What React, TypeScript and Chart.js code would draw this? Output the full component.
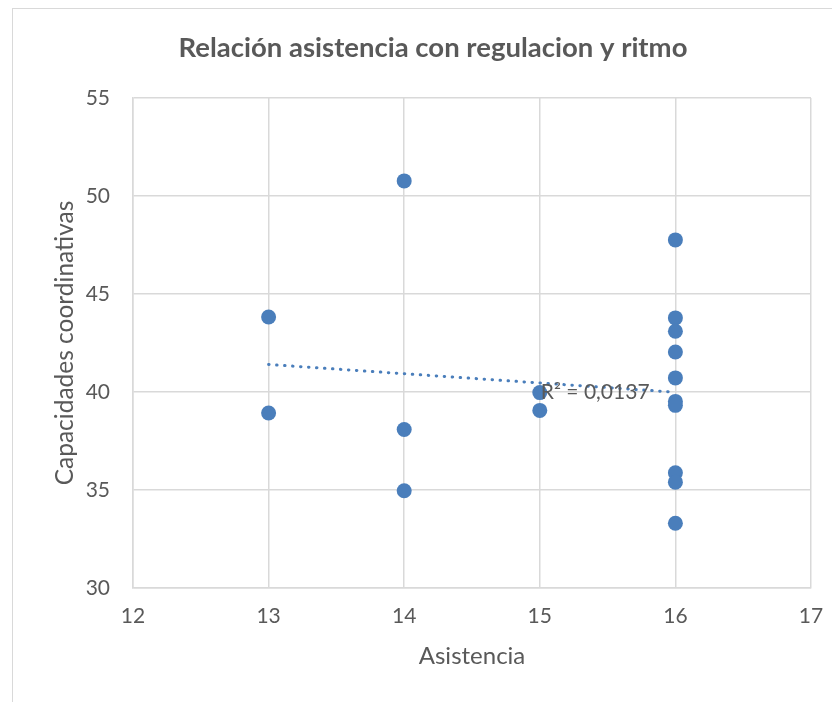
import React, { useEffect, useRef } from "react";
import { Chart, registerables } from "chart.js";

Chart.register(...registerables);

const chartTitle = "Relación asistencia con regulacion y ritmo";
const xAxisTitle = "Asistencia";
const yAxisTitle = "Capacidades coordinativas";
const r2Label = "R² = 0,0137";

const asistencia = [13, 13, 14, 14, 14, 15, 15, 16, 16, 16, 16, 16, 16, 16, 16, 16, 16];
const capacidades = [43.83, 38.93, 50.77, 38.09, 34.96, 39.97, 39.06, 47.76, 43.78, 43.1, 42.04, 40.72, 39.52, 39.32, 35.88, 35.4, 33.3];

const xMin = 12, xMax = 17, xStep = 1;
const yMin = 30, yMax = 55, yStep = 5;
const labelAnchor = { x: 15, y: 40 };

const BLUE = "#4a7ebb";
const GRID = "#d9d9d9";
const TEXT = "#595959";
const FONT = "Lato, 'Open Sans', sans-serif";

function regression(xs: number[], ys: number[]) {
  const n = xs.length;
  const mx = xs.reduce((a, b) => a + b, 0) / n;
  const my = ys.reduce((a, b) => a + b, 0) / n;
  let sxy = 0, sxx = 0;
  for (let i = 0; i < n; i++) {
    sxy += (xs[i] - mx) * (ys[i] - my);
    sxx += (xs[i] - mx) * (xs[i] - mx);
  }
  const slope = sxy / sxx;
  return { slope, intercept: my - slope * mx };
}

export default function App() {
  const ref = useRef<HTMLCanvasElement | null>(null);

  useEffect(() => {
    if (!ref.current) return;
    const { slope, intercept } = regression(asistencia, capacidades);
    const x0 = Math.min(...asistencia);
    const x1 = Math.max(...asistencia);
    const trend = [
      { x: x0, y: intercept + slope * x0 },
      { x: x1, y: intercept + slope * x1 },
    ];
    const points = asistencia.map((x, i) => ({ x, y: capacidades[i] }));

    const textPlugin = {
      id: "excelText",
      afterDatasetsDraw(chart: any) {
        const { ctx, scales } = chart;
        const px = scales.x.getPixelForValue(labelAnchor.x);
        const py = scales.y.getPixelForValue(labelAnchor.y);
        ctx.save();
        ctx.font = `21px ${FONT}`;
        ctx.fillStyle = TEXT;
        ctx.textAlign = "left";
        ctx.textBaseline = "middle";
        ctx.fillText(r2Label, px + 1, py);
        // chart title, centred on the Excel chart frame
        ctx.font = `bold 27.5px ${FONT}`;
        ctx.textAlign = "center";
        ctx.fillText(chartTitle, chart.width / 2 + 9, 40);
        ctx.restore();
      },
    };

    const chart = new Chart(ref.current, {
      type: "scatter",
      data: {
        datasets: [
          {
            type: "line",
            data: trend,
            borderColor: BLUE,
            borderWidth: 3,
            borderDash: [0.5, 7.5],
            borderCapStyle: "round",
            pointRadius: 0,
            fill: false,
            order: 2,
          } as any,
          {
            data: points,
            backgroundColor: BLUE,
            borderWidth: 0,
            pointRadius: 7.5,
            order: 1,
          },
        ],
      },
      options: {
        responsive: false,
        animation: false,
        layout: { padding: { left: 0, right: 29, top: 90, bottom: 0 } },
        plugins: {
          legend: { display: false },
          tooltip: { enabled: false },
          title: { display: false },
        },
        scales: {
          x: {
            type: "linear",
            min: xMin,
            max: xMax,
            ticks: { stepSize: xStep, color: TEXT, font: { family: FONT, size: 21 }, padding: 16 },
            grid: { color: GRID, lineWidth: 1.5, drawTicks: false },
            border: { color: GRID, width: 1.5 },
            title: {
              display: true,
              text: xAxisTitle,
              color: TEXT,
              font: { family: FONT, size: 24 },
              padding: { top: 0, bottom: 31 },
            },
            afterFit(scale: any) {
              scale.height = 114;
            },
          },
          y: {
            type: "linear",
            min: yMin,
            max: yMax,
            ticks: { stepSize: yStep, color: TEXT, font: { family: FONT, size: 21 }, padding: 23 },
            grid: { color: GRID, lineWidth: 1.5, drawTicks: false },
            border: { color: GRID, width: 1.5 },
            title: {
              display: true,
              text: yAxisTitle,
              color: TEXT,
              font: { family: FONT, size: 24.5 },
              padding: { top: 42, bottom: 0 },
            },
            afterFit(scale: any) {
              scale.width = 125;
            },
          },
        },
      },
      plugins: [textPlugin],
    });
    return () => chart.destroy();
  }, []);

  return (
    <div style={{ position: "relative", width: 832, height: 694, overflow: "hidden", background: "#fff" }}>
      <div
        style={{
          position: "absolute",
          left: 4,
          top: 0,
          right: 0,
          bottom: 0,
          borderTop: "1.5px solid #d9d9d9",
          borderLeft: "1.5px solid #d9d9d9",
        }}
      />
      <canvas ref={ref} width={832} height={694} style={{ position: "absolute", left: 0, top: 0 }} />
    </div>
  );
}
